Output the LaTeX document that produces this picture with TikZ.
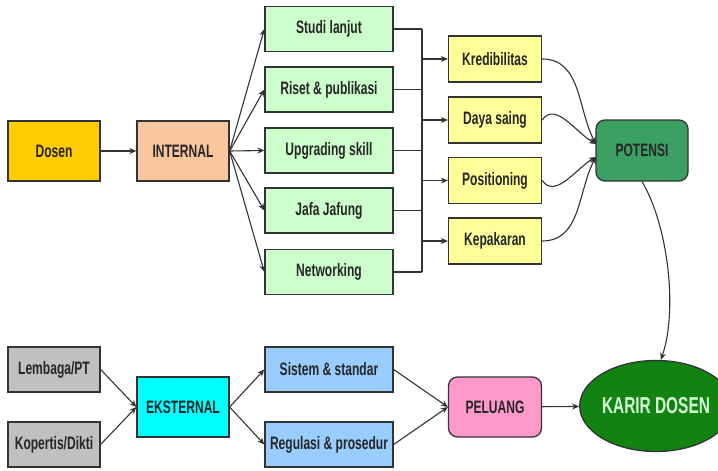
\documentclass[tikz,border=0pt]{standalone}
\usepackage{fontspec}
\setmainfont{Liberation Sans}[FakeStretch=0.67]
\usetikzlibrary{arrows.meta,shapes.geometric}
\definecolor{cdosen}{HTML}{FFCC00}
\definecolor{cint}{HTML}{FAC69E}
\definecolor{cgreen}{HTML}{CCFFCC}
\definecolor{cyel}{HTML}{FFFF99}
\definecolor{cpot}{HTML}{3CA064}
\definecolor{ckarir}{HTML}{128212}
\definecolor{ckarirtxt}{HTML}{D4FFD4}
\definecolor{cpel}{HTML}{FF99CC}
\definecolor{cblue}{HTML}{99CCFF}
\definecolor{ceks}{HTML}{00FFFF}
\definecolor{cgray}{HTML}{C0C0C0}
\definecolor{cline}{HTML}{333333}
\tikzset{
  box/.style={draw=cline, line width=1.3pt, minimum height=45pt, inner sep=0pt,
    font=\bfseries\fontsize{18}{20}\selectfont, text=black!85},
  smallbox/.style={box, minimum width=92pt, minimum height=60pt},
  gbox/.style={box, minimum width=128pt, fill=cgreen},
  ybox/.style={box, minimum width=93pt, minimum height=46pt, fill=cyel},
  rbox/.style={box, rounded corners=9pt, minimum width=93pt, minimum height=60pt},
  conn/.style={draw=cline, line width=1.1pt},
  arr/.style={conn, -{Stealth[length=7pt,width=6pt]}},
}
\begin{document}
\begin{tikzpicture}[x=1pt,y=-1pt]
\useasboundingbox (0,0) rectangle (718,471);
% top row
\node[smallbox, fill=cdosen] (dosen) at (54,151) {Dosen};
\node[smallbox, fill=cint] (int) at (183,151) {INTERNAL};
\node[gbox] (g1) at (329,29) {Studi lanjut};
\node[gbox] (g2) at (329,89.5) {Riset \& publikasi};
\node[gbox] (g3) at (329,150.5) {Upgrading skill};
\node[gbox] (g4) at (329,210.5) {Jafa Jafung};
\node[gbox] (g5) at (329,272) {Networking};
\node[ybox] (y1) at (495,59) {Kredibilitas};
\node[ybox] (y2) at (495,120) {Daya saing};
\node[ybox] (y3) at (495,180.5) {Positioning};
\node[ybox] (y4) at (495,241) {Kepakaran};
\node[rbox, fill=cpot, minimum width=92pt, minimum height=61pt] (pot) at (642,150.5) {POTENSI};
% bottom row
\node[smallbox, fill=cgray, minimum height=45pt] (lem) at (54,369.5) {Lembaga/PT};
\node[smallbox, fill=cgray, minimum height=45pt] (kop) at (54,444.5) {Kopertis/Dikti};
\node[smallbox, fill=ceks] (eks) at (183,407) {EKSTERNAL};
\node[gbox, fill=cblue] (sis) at (329,369.5) {Sistem \& standar};
\node[gbox, fill=cblue] (reg) at (329,444.5) {Regulasi \& prosedur};
\node[rbox, fill=cpel] (pel) at (495,407) {PELUANG};
\node[ellipse, draw=cline, line width=1.3pt, fill=ckarir, minimum width=121pt, minimum height=91pt, inner sep=0pt,
  font=\bfseries\fontsize{23}{25}\selectfont, text=ckarirtxt] (kar) at (656,406) {KARIR DOSEN};
% connectors top
\draw[arr] (dosen) -- (int);
\foreach \g in {g1,g2,g3,g4,g5} \draw[arr] (int.east) -- (\g.west);
\coordinate (bus) at (422,0);
\foreach \g in {g1,g2,g3,g4,g5} \draw[conn] (\g.east) -- (\g.east -| bus);
\draw[conn] (g1.east -| bus) -- (g5.east -| bus);
\foreach \y in {y1,y2,y3,y4} \draw[arr] (\y.west -| bus) -- (\y.west);
\coordinate (pa) at (596,144);
\coordinate (pb) at (596,157);
\draw[arr] (y1.east) to[out=0,in=118] (pa);
\draw[arr] (y2.east) to[out=55,in=150] (pa);
\draw[arr] (y3.east) to[out=-55,in=-150] (pb);
\draw[arr] (y4.east) to[out=0,in=-118] (pb);
\draw[arr] (pot.south) .. controls (668,225) and (678,310) .. (kar.84);
% connectors bottom
\draw[arr] (lem.east) -- (eks.west);
\draw[arr] (kop.east) -- (eks.west);
\draw[arr] (eks.east) -- (sis.west);
\draw[arr] (eks.east) -- (reg.west);
\draw[arr] (sis.east) -- (pel.west);
\draw[arr] (reg.east) -- (pel.west);
\draw[arr] (pel) -- (kar);
\end{tikzpicture}
\end{document}
